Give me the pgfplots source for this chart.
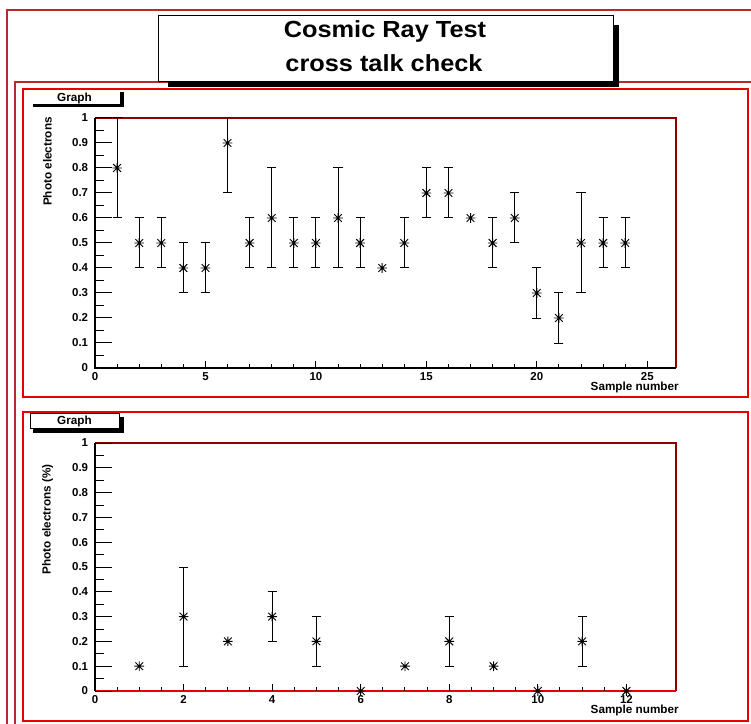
\documentclass[border=0pt]{standalone}
\usepackage{pgfplots}
\pgfplotsset{compat=1.18}
\usepackage{pgfplotstable}
\usepackage{fontspec}
\setmainfont{Liberation Sans}

\definecolor{padred}{RGB}{230,0,0}
\definecolor{canvred}{RGB}{175,45,45}
\definecolor{framered}{RGB}{140,0,0}

% ROOT-style star marker: + and x together
\pgfdeclareplotmark{rootstar}{%
  \pgfpathmoveto{\pgfqpoint{-\pgfplotmarksize}{0pt}}%
  \pgfpathlineto{\pgfqpoint{\pgfplotmarksize}{0pt}}%
  \pgfpathmoveto{\pgfqpoint{0pt}{-\pgfplotmarksize}}%
  \pgfpathlineto{\pgfqpoint{0pt}{\pgfplotmarksize}}%
  \pgfpathmoveto{\pgfqpoint{-.8\pgfplotmarksize}{-.8\pgfplotmarksize}}%
  \pgfpathlineto{\pgfqpoint{.8\pgfplotmarksize}{.8\pgfplotmarksize}}%
  \pgfpathmoveto{\pgfqpoint{-.8\pgfplotmarksize}{.8\pgfplotmarksize}}%
  \pgfpathlineto{\pgfqpoint{.8\pgfplotmarksize}{-.8\pgfplotmarksize}}%
  \pgfusepathqstroke}

% top pad: points with error bars
\pgfplotstableread{
x y e
1 0.8 0.2
2 0.5 0.1
3 0.5 0.1
4 0.4 0.1
5 0.4 0.1
6 0.9 0.2
7 0.5 0.1
8 0.6 0.2
9 0.5 0.1
10 0.5 0.1
11 0.6 0.2
12 0.5 0.1
14 0.5 0.1
15 0.7 0.1
16 0.7 0.1
18 0.5 0.1
19 0.6 0.1
20 0.3 0.1
21 0.2 0.1
22 0.5 0.2
23 0.5 0.1
24 0.5 0.1
}\topErr
\pgfplotstableread{
x y
13 0.4
17 0.6
}\topNoErr

% bottom pad
\pgfplotstableread{
x y e
2 0.3 0.2
4 0.3 0.1
5 0.2 0.1
8 0.2 0.1
11 0.2 0.1
}\botErr
\pgfplotstableread{
x y
1 0.1
3 0.2
6 0
7 0.1
9 0.1
10 0
12 0
}\botNoErr

\newcommand\tickfont{\bfseries\fontsize{8.6}{10}\selectfont}
\newcommand\labfont{\bfseries\fontsize{8.8}{10}\selectfont}

\pgfplotsset{
  rootbase/.style={
    scale only axis, width=435.75pt, anchor=south west,
    axis line style={draw=none},
    tick align=inside, tick style={black, line width=0.75pt},
    ticklabel style={font=\tickfont},
    /pgf/number format/assume math mode=true,
    /pgf/number format/fixed, /pgf/number format/precision=1,
    ymin=0, ymax=1,
    xtick pos=left, ytick pos=left,
  },
  yaxisonly/.style={
    xtick=\empty,
    ytick={0,0.1,0.2,0.3,0.4,0.5,0.6,0.7,0.8,0.9,1},
    minor y tick num=1,
    major tick length=13pt, minor tick length=6.5pt,
    yticklabel style={anchor=east, inner sep=0pt, xshift=-5pt},
  },
  xaxisonly/.style={
    ytick=\empty, clip=false,
    major tick length=5.6pt, minor tick length=2.8pt,
    xticklabel style={anchor=north, inner sep=0pt, yshift=-3.5pt},
  },
  errpts/.style={
    black, only marks, mark=rootstar, mark size=3.6pt,
    mark options={line width=0.7pt},
    error bars/.cd, y dir=both, y explicit,
    error bar style={black, line width=0.75pt},
    error mark=-, error mark options={rotate=90, black, line width=0.75pt, mark size=3.4pt},
  },
  pts/.style={black, only marks, mark=rootstar, mark size=3.6pt,
    mark options={line width=0.7pt}},
}

\begin{document}
\begin{tikzpicture}[x=0.75pt, y=-0.75pt]
\path[use as bounding box] (0,0) rectangle (751,724);

% canvas and pad frames
\draw[canvred, line width=0.9pt] (7,724) -- (7,10) -- (751,10);
\draw[canvred, line width=0.9pt] (15,724) -- (15,82) -- (751,82);
\draw[padred, line width=0.9pt] (23,89) rectangle (748,397);
\draw[padred, line width=0.9pt] (23,412) rectangle (748,721);

% title box
\fill[black] (168,25) rectangle (619,87);
\draw[black, fill=white, line width=0.75pt] (158,16) rectangle (613,82);
\node[anchor=base, inner sep=0pt, yscale=0.92, font=\bfseries\fontsize{19}{22}\selectfont] at (385,38) {Cosmic Ray Test};
\node[anchor=base, inner sep=0pt, yscale=0.92, font=\bfseries\fontsize{19}{22}\selectfont] at (384,72) {cross talk check};

% "Graph" labels
\fill[black] (33,104) rectangle (124,107);
\fill[black] (120,92) rectangle (124,107);
\node[anchor=base, inner sep=0pt, font=\labfont] at (74.5,101.5) {Graph};

\fill[black] (33,428) rectangle (124,433);
\fill[black] (119,417) rectangle (124,433);
\draw[black, fill=white, line width=0.75pt] (30,413) rectangle (119,428);
\node[anchor=base, inner sep=0pt, font=\labfont] at (74.5,424.5) {Graph};

% axis frames
\draw[framered, line width=1.1pt] (95,118) -- (676,118) -- (676,368);
\draw[black, line width=0.9pt] (95,118) -- (95,368) -- (676,368);
\draw[framered, line width=1.1pt] (95,443) -- (676,443) -- (676,691);
\draw[black, line width=0.9pt] (95,443) -- (95,691);
\draw[padred, line width=1.1pt] (95,691) -- (676,691);

% ---------- top pad ----------
\begin{axis}[rootbase, yaxisonly, at={(71.25pt,-276pt)}, height=187.5pt,
  xmin=0, xmax=26.3]
  \addplot[errpts] table[x=x, y=y, y error=e] {\topErr};
  \addplot[pts] table[x=x, y=y] {\topNoErr};
\end{axis}
\begin{axis}[rootbase, xaxisonly, at={(71.25pt,-276pt)}, height=187.5pt,
  xmin=0, xmax=26.3, xtick={0,5,10,15,20,25}, minor x tick num=4]
\end{axis}

% ---------- bottom pad ----------
\begin{axis}[rootbase, yaxisonly, at={(71.25pt,-518.25pt)}, height=186pt,
  xmin=0, xmax=13.12]
  \addplot[errpts] table[x=x, y=y, y error=e] {\botErr};
  \addplot[pts] table[x=x, y=y] {\botNoErr};
\end{axis}
\begin{axis}[rootbase, xaxisonly, at={(71.25pt,-518.25pt)}, height=186pt,
  xmin=0, xmax=13.12, xtick={0,2,4,6,8,10,12}, minor x tick num=3]
\end{axis}

% axis titles
\node[anchor=east, inner sep=0pt, font=\labfont] at (679,387) {Sample number};
\node[anchor=east, inner sep=0pt, font=\labfont] at (679,710) {Sample number};
\node[rotate=90, anchor=east, inner sep=0pt, font=\labfont] at (47.5,117) {Photo electrons};
\node[rotate=90, anchor=east, inner sep=0pt, font=\labfont] at (47.5,464) {Photo electrons (\%)};
\end{tikzpicture}
\end{document}
